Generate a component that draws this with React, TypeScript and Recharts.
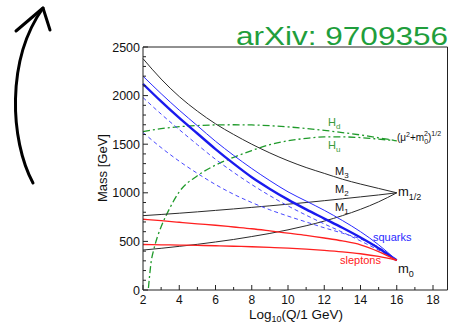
import React from 'react'
import { LineChart, Line, XAxis, YAxis } from 'recharts'

// log10(Q / 1 GeV) grid used for most of the curves
const scaleLog = [2, 3, 4, 5, 6, 7, 8, 9, 10, 11, 12, 13, 14, 15, 16]

// gaugino masses [GeV]
const m3Mass = [2380, 2170, 1990, 1840, 1710, 1600, 1500, 1410, 1330, 1260, 1200, 1140, 1090, 1045, 1000]
const m2Mass = [765, 777, 790, 804, 819, 834, 850, 866, 883, 900, 919, 938, 958, 978, 1000]
const m1Mass = [411, 429, 449, 470, 494, 520, 550, 582, 619, 661, 709, 765, 830, 907, 1000]

// squarks
const sqTopMass = [2200, 2020, 1850, 1690, 1530, 1385, 1250, 1125, 1010, 915, 820, 715, 600, 465, 305]
const sqBandMass = [2120, 1940, 1770, 1610, 1450, 1300, 1160, 1040, 930, 830, 735, 640, 540, 430, 305]
const sqDashHiMass = [1980, 1810, 1650, 1495, 1345, 1210, 1085, 970, 865, 770, 680, 595, 505, 410, 305]
const sqDashLoMass = [1620, 1465, 1325, 1200, 1085, 985, 900, 825, 760, 700, 640, 585, 525, 440, 305]

// sleptons
const slepLMass = [728, 713, 697, 681, 666, 648, 630, 608, 585, 562, 535, 505, 465, 395, 305]
const slepRMass = [468, 465, 462, 459, 455, 450, 445, 438, 430, 420, 408, 393, 373, 345, 305]

// Higgs mass parameters
const hdMass = [1630, 1660, 1680, 1692, 1698, 1700, 1698, 1690, 1678, 1662, 1642, 1620, 1595, 1566, 1535]
const huLog = [2.3, 2.45, 2.6, 2.8, 3, 3.5, 4, 5, 6, 7, 8, 9, 10, 11, 12, 13, 14, 15, 16]
const huMass = [20, 290, 420, 550, 650, 850, 1010, 1175, 1285, 1365, 1435, 1495, 1535, 1560, 1575, 1575, 1568, 1552, 1535]

const xTicks = [2, 3, 4, 5, 6, 7, 8, 9, 10, 11, 12, 13, 14, 15, 16, 17, 18]
const xLabels = [2, 4, 6, 8, 10, 12, 14, 16, 18]
const yTicks = [
  0, 100, 200, 300, 400, 500, 600, 700, 800, 900, 1000, 1100, 1200,
  1300, 1400, 1500, 1600, 1700, 1800, 1900, 2000, 2100, 2200, 2300, 2400, 2500,
]
const yLabels = [0, 500, 1000, 1500, 2000, 2500]

const FONT = '"Liberation Sans", Arial, Helvetica, sans-serif'
const GREEN = '#1f9a2a'
const BLUE = '#2a2aff'
const RED = '#ff2020'
const INK = '#222'

const toPoints = (xs: number[], ys: number[]) => xs.map((x, i) => ({ x, y: ys[i] }))

type Side = 'bottom' | 'top' | 'left' | 'right'

// ticks point into the frame, labels sit outside (bottom/left only)
function frameTick(side: Side, majors: number[], showText: boolean) {
  return (props: any) => {
    const { x, y, payload } = props
    const v = payload.value
    const major = majors.includes(v)
    const len = major ? 5 : 3
    let x2 = x
    let y2 = y
    if (side === 'bottom') y2 = y - len
    if (side === 'top') y2 = y + len
    if (side === 'left') x2 = x + len
    if (side === 'right') x2 = x - len
    return (
      <g>
        <line x1={x} y1={y} x2={x2} y2={y2} stroke={INK} strokeWidth={1} />
        {showText && major && side === 'bottom' && (
          <text x={x} y={y + 14} textAnchor="middle" fontSize={12} fontFamily={FONT} fill="#111">
            {v}
          </text>
        )}
        {showText && major && side === 'left' && (
          <text x={x - 3} y={y + 4.5} textAnchor="end" fontSize={12.5} fontFamily={FONT} fill="#111">
            {v}
          </text>
        )}
      </g>
    )
  }
}

function Overlay() {
  const t = { fontFamily: FONT }
  return (
    <svg
      width={450}
      height={323}
      style={{ position: 'absolute', left: 0, top: 0, pointerEvents: 'none' }}
    >
      {/* hand drawn arrow */}
      <g fill="none" stroke="#000" strokeWidth={3} strokeLinecap="round">
        <path d="M33,183 C10,140 6,60 43,8" />
        <path d="M16,31 L43,8 L50,30" strokeLinejoin="round" />
      </g>

      <text x={236} y={45} fontSize={25} textLength={212} lengthAdjust="spacingAndGlyphs" fill="#1f9e3c" {...t}>
        arXiv: 9709356
      </text>

      {/* axis titles */}
      <text x={102} y={168} fontSize={13} textAnchor="middle" transform="rotate(-90 102 168)" dy={4.5} fill="#111" {...t}>
        Mass  [GeV]
      </text>
      <text x={249} y={318.5} fontSize={13.5} fill="#111" {...t}>
        Log<tspan fontSize={9} dy={3}>10</tspan>
        <tspan dy={-3}>(Q/1 GeV)</tspan>
      </text>

      {/* curve annotations */}
      <g fontSize={11} fill="#111" {...t}>
        <text x={335} y={175}>
          M<tspan fontSize={8} dy={3}>3</tspan>
        </text>
        <text x={335} y={193}>
          M<tspan fontSize={8} dy={3}>2</tspan>
        </text>
        <text x={335} y={211}>
          M<tspan fontSize={8} dy={3}>1</tspan>
        </text>
      </g>
      <text x={398} y={196} fontSize={13} fill="#111" {...t}>
        m<tspan fontSize={9} dy={4}>1/2</tspan>
      </text>
      <text x={398} y={273} fontSize={13} fill="#111" {...t}>
        m<tspan fontSize={9} dy={4}>0</tspan>
      </text>
      <text x={373} y={241} fontSize={11} fill={BLUE} {...t}>
        squarks
      </text>
      <text x={340} y={264} fontSize={11} fill={RED} {...t}>
        sleptons
      </text>
      <text x={328} y={126} fontSize={11} fill="#3a9a3a" {...t}>
        H<tspan fontSize={8} dy={3}>d</tspan>
      </text>
      <text x={328} y={149} fontSize={11} fill="#3a9a3a" {...t}>
        H<tspan fontSize={8} dy={3}>u</tspan>
      </text>
      <text x={397} y={141} fontSize={10} fill="#111" {...t}>
        (μ<tspan fontSize={7} dy={-4}>2</tspan>
        <tspan dy={4}>+m</tspan>
        <tspan fontSize={7} dy={3}>0</tspan>
        <tspan fontSize={7} dx={-4} dy={-8}>2</tspan>
        <tspan dy={5}>)</tspan>
        <tspan fontSize={7} dy={-5}>1/2</tspan>
      </text>
    </svg>
  )
}

export default function App() {
  const common = { type: 'monotone' as const, dot: false, isAnimationActive: false, dataKey: 'y' }
  return (
    <div style={{ position: 'absolute', left: 0, top: 0, width: 450, height: 323, background: '#fff' }}>
      <LineChart width={450} height={323} margin={{ top: 46, right: 1.5, bottom: 3, left: 103 }}>
        <XAxis
          xAxisId={0}
          type="number"
          dataKey="x"
          domain={[2, 18.8]}
          ticks={xTicks}
          interval={0}
          height={30}
          tickSize={0}
          tickMargin={0}
          tickLine={false}
          axisLine={{ stroke: INK }}
          tick={frameTick('bottom', xLabels, true)}
        />
        <XAxis
          xAxisId="top"
          orientation="top"
          type="number"
          dataKey="x"
          domain={[2, 18.8]}
          ticks={xTicks}
          interval={0}
          height={1}
          tickSize={0}
          tickMargin={0}
          tickLine={false}
          axisLine={{ stroke: INK }}
          tick={frameTick('top', xLabels, false)}
        />
        <YAxis
          yAxisId={0}
          type="number"
          domain={[0, 2500]}
          ticks={yTicks}
          interval={0}
          width={40}
          tickSize={0}
          tickMargin={0}
          tickLine={false}
          axisLine={{ stroke: INK }}
          tick={frameTick('left', yLabels, true)}
        />
        <YAxis
          yAxisId="right"
          orientation="right"
          type="number"
          domain={[0, 2500]}
          ticks={yTicks}
          interval={0}
          width={1}
          tickSize={0}
          tickMargin={0}
          tickLine={false}
          axisLine={{ stroke: INK }}
          tick={frameTick('right', yLabels, false)}
        />

        <Line {...common} data={toPoints(huLog, huMass)} stroke={GREEN} strokeWidth={1.3} strokeDasharray="7 3 2 3" />
        <Line {...common} data={toPoints(scaleLog, hdMass)} stroke={GREEN} strokeWidth={1.3} strokeDasharray="7 3 2 3" />

        <Line {...common} data={toPoints(scaleLog, m3Mass)} stroke="#2b2b2b" strokeWidth={1} />
        <Line {...common} data={toPoints(scaleLog, m2Mass)} stroke="#2b2b2b" strokeWidth={1} />
        <Line {...common} data={toPoints(scaleLog, m1Mass)} stroke="#2b2b2b" strokeWidth={1} />

        <Line {...common} data={toPoints(scaleLog, sqDashLoMass)} stroke="#4848ff" strokeWidth={1} strokeDasharray="4 3" />
        <Line {...common} data={toPoints(scaleLog, sqDashHiMass)} stroke="#4848ff" strokeWidth={1} strokeDasharray="4 3" />
        <Line {...common} data={toPoints(scaleLog, sqBandMass)} stroke="#1a1aee" strokeWidth={2.4} />
        <Line {...common} data={toPoints(scaleLog, sqTopMass)} stroke={BLUE} strokeWidth={1} />

        <Line {...common} data={toPoints(scaleLog, slepLMass)} stroke={RED} strokeWidth={1.3} />
        <Line {...common} data={toPoints(scaleLog, slepRMass)} stroke={RED} strokeWidth={1.3} />
      </LineChart>
      <Overlay />
    </div>
  )
}
